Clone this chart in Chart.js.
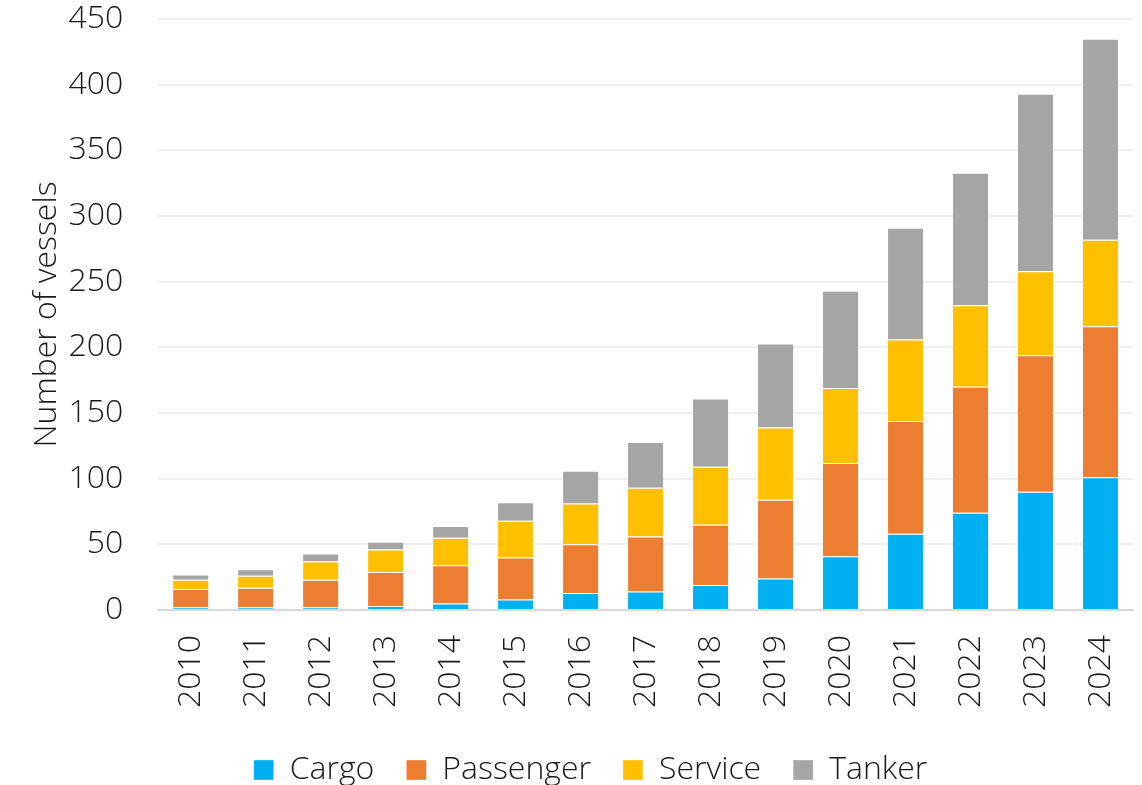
<!DOCTYPE html>
<html>
<head>
<meta charset="utf-8">
<script src="https://cdn.jsdelivr.net/npm/chart.js@4.4.1/dist/chart.umd.min.js"></script>
<style>
  html, body { margin: 0; padding: 0; background: #fff; }
  #wrap { width: 1142px; height: 785px; }
</style>
</head>
<body>
<div id="wrap"><canvas id="myChart"></canvas></div>
<script>
const years = ["2010", "2011", "2012", "2013", "2014", "2015", "2016", "2017", "2018", "2019", "2020", "2021", "2022", "2023", "2024"];
const cargo = [2, 2, 2, 3, 5, 8, 13, 14, 19, 24, 41, 58, 74, 90, 101];
const passenger = [14, 15, 21, 26, 29, 32, 37, 42, 46, 60, 71, 86, 96, 104, 115];
const service = [7, 9, 14, 17, 21, 28, 31, 37, 44, 55, 57, 62, 62, 64, 66];
const tanker = [4, 5, 6, 6, 9, 14, 25, 35, 52, 64, 74, 85, 101, 135, 153];
const yTicks = [0, 50, 100, 150, 200, 250, 300, 350, 400, 450];

const font = { family: "'Open Sans', sans-serif", size: 32, weight: 300 };
const textColor = "#1a1a1a";

function series(label, data, color) {
    return {
        label: label,
        data: data,
        backgroundColor: color,
        borderColor: "rgba(255,255,255,0.3)",
        borderWidth: 1,
        categoryPercentage: 1,
        barPercentage: 0.57
    };
}

const ctx = document.getElementById('myChart');
new Chart(ctx, {
    type: 'bar',
    data: {
        labels: years,
        datasets: [
            series("Cargo", cargo, "#00B0F0"),
            series("Passenger", passenger, "#ED7D31"),
            series("Service", service, "#FFC000"),
            series("Tanker", tanker, "#A5A5A5")
        ]
    },
    options: {
        responsive: true,
        maintainAspectRatio: false,
        animation: false,
        layout: { padding: { left: 48, right: 9, top: 0, bottom: -11 } },
        scales: {
            x: {
                stacked: true,
                grid: { display: false, drawTicks: false },
                border: { color: "#d9d9d9", width: 2 },
                ticks: { font: font, color: textColor, maxRotation: 90, minRotation: 90, padding: 25 },
                // rotated labels fit inside their columns, no side padding needed
                afterFit: (axis) => { axis.height = 112; axis.paddingLeft = 0; axis.paddingRight = 0; }
            },
            y: {
                stacked: true,
                min: 0,
                max: 450,
                afterBuildTicks: (axis) => { axis.ticks = yTicks.map(v => ({ value: v })); },
                // tick padding would otherwise be added above the top label too
                afterFit: (axis) => { axis.paddingTop = 19; axis.paddingBottom = 19; },
                grid: { color: "#eeeeee", lineWidth: 2, drawTicks: false },
                border: { display: false },
                ticks: { font: font, color: textColor, padding: 35 },
                title: {
                    display: true,
                    text: "Number of vessels",
                    font: font,
                    color: textColor,
                    padding: { top: -20, bottom: -33 }
                }
            }
        },
        plugins: {
            legend: {
                display: true,
                position: 'bottom',
                labels: { font: font, color: textColor, boxWidth: 20, boxHeight: 20, padding: 32 }
            },
            title: { display: false },
            tooltip: { enabled: false }
        }
    }
});
</script>
</body>
</html>
